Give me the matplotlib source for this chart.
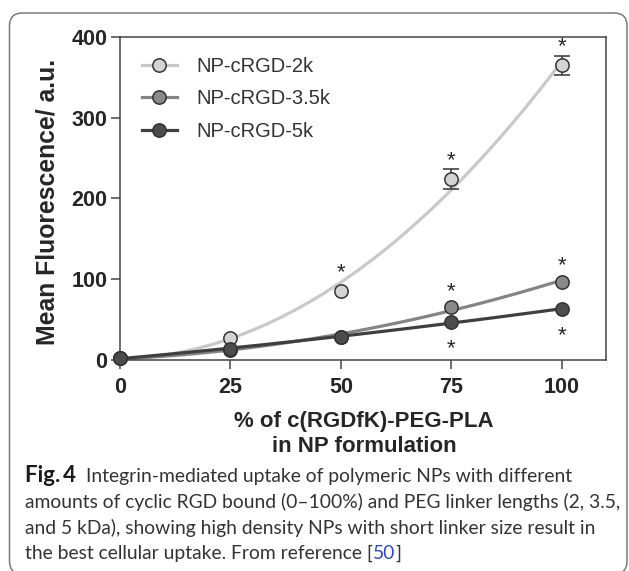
import numpy as np
import matplotlib
matplotlib.use("Agg")
import matplotlib.pyplot as plt
from matplotlib.patches import FancyBboxPatch
from matplotlib.transforms import IdentityTransform
from matplotlib.lines import Line2D

# ---------------- data ----------------
x_pct = [0, 25, 50, 75, 100]
series_names = ["NP-cRGD-2k", "NP-cRGD-3.5k", "NP-cRGD-5k"]
y_2k = [3, 27, 86, 224, 365]
y_35k = [2, 12, 29, 66, 97]
y_5k = [2, 14, 29, 47, 63]
err_2k = [0, 0, 0, 12, 12]
err_35k = [0, 0, 0, 0, 0]
err_5k = [0, 0, 0, 0, 0]
# significance stars: x positions per series, placed above (+1) or below (-1)
sig_2k = [50, 75, 100]
sig_35k = [75, 100]
sig_5k = [75, 100]
sig_side = [1, 1, -1]
x_ticks = [0, 25, 50, 75, 100]
y_ticks = [0, 100, 200, 300, 400]
x_label = "% of c(RGDfK)-PEG-PLA\nin NP formulation"
y_label = "Mean Fluorescence/ a.u."
caption_lines = [
    "Integrin-mediated uptake of polymeric NPs with different",
    "amounts of cyclic RGD bound (0\u2013100%) and PEG linker lengths (2, 3.5,",
    "and 5 kDa), showing high density NPs with short linker size result in",
    "the best cellular uptake. From reference [",
]

# ---------------- style ----------------
W, H = 629, 571
SANS = ["Liberation Sans", "DejaVu Sans"]
line_colors = ["#c9c9c9", "#858585", "#3f3f3f"]
face_colors = ["#d4d4d4", "#8a8a8a", "#4c4c4c"]
edge_color = "#333333"
text_color = "#262626"
MS = 9.6

plt.rcParams["font.family"] = SANS

fig = plt.figure(figsize=(W / 100, H / 100), dpi=100)
fig.patch.set_facecolor("white")

# outer rounded frame
frame = FancyBboxPatch((9.5, H - 574), 627 - 9.5, 574 - 13,
                       boxstyle="round,pad=0,rounding_size=13",
                       transform=IdentityTransform(), fill=False,
                       edgecolor="#7a7a7a", linewidth=1.1)
fig.add_artist(frame)

ax_l, ax_r, ax_t, ax_b = 120, 606, 37, 360
ax = fig.add_axes([ax_l / W, 1 - ax_b / H, (ax_r - ax_l) / W, (ax_b - ax_t) / H])
ax.set_xlim(0, 110)
ax.set_ylim(0, 400)

for s in ax.spines.values():
    s.set_color("#444444")
    s.set_linewidth(1.1)

ax.set_xticks(x_ticks)
ax.set_yticks(y_ticks)
ax.tick_params(axis="both", direction="out", length=6.5, width=1.1, color="#444444",
               labelsize=15.5, labelcolor=text_color)
ax.tick_params(axis="x", pad=6.0)
ax.tick_params(axis="y", pad=2.6)
for lab in ax.get_xticklabels() + ax.get_yticklabels():
    lab.set_fontweight("bold")

ys = [y_2k, y_35k, y_5k]
errs = [err_2k, err_35k, err_5k]
sigs = [sig_2k, sig_35k, sig_5k]
xfine = np.linspace(0, 100, 200)

# fitted trend lines
for i in range(3):
    coef = np.polyfit(x_pct, ys[i], 2)
    ax.plot(xfine, np.polyval(coef, xfine), color=line_colors[i], lw=2.3,
            zorder=2 + i * 0.1, solid_capstyle="butt", clip_on=False)

# markers with error bars
for i in range(3):
    e = np.array(errs[i], dtype=float)
    ax.errorbar(x_pct, ys[i], yerr=np.where(e > 0, e, np.nan), fmt="none",
                ecolor=edge_color, elinewidth=1.1, capsize=5.5, capthick=1.1,
                zorder=4 + i * 0.1, clip_on=False)
    ax.plot(x_pct, ys[i], ls="none", marker="o", ms=MS, mfc=face_colors[i],
            mec=edge_color, mew=1.1, zorder=5 + i * 0.1, clip_on=False)

# significance stars
star_offsets = {1: 10, -1: -32}   # baseline offset in pixels relative to point
for i in range(3):
    for xv in sigs[i]:
        idx = x_pct.index(xv)
        yv = ys[i][idx]
        off = star_offsets[sig_side[i]]
        if sig_side[i] > 0 and errs[i][idx] > 0:
            off += 3
        if i == 0 and errs[i][idx] == 0:
            off += 2
        ax.annotate("*", xy=(xv, yv), xytext=(0, off), textcoords="offset pixels",
                    ha="center", va="baseline", fontsize=16, color=text_color,
                    zorder=6)

# legend
handles = [Line2D([], [], color=line_colors[i], lw=2.3, marker="o", ms=MS,
                  mfc=face_colors[i], mec=edge_color, mew=1.1) for i in range(3)]
leg = ax.legend(handles, series_names, loc="upper left",
                bbox_to_anchor=((142 - ax_l) / (ax_r - ax_l), (ax_b - 57) / (ax_b - ax_t)),
                frameon=False, fontsize=14.5, handlelength=1.72, handletextpad=1.0,
                labelspacing=0.66, borderpad=0, borderaxespad=0)
for t in leg.get_texts():
    t.set_color("#333333")

# axis labels
fig.text(48 / W, 1 - 202 / H, y_label, rotation=90, ha="center", va="center",
         fontsize=17.8, fontweight="bold", color=text_color)
xl = x_label.split("\n")
fig.text(364 / W, 1 - 422 / H, xl[0], ha="center", va="center",
         fontsize=16, fontweight="bold", color=text_color)
fig.text(364 / W, 1 - 446 / H, xl[1], ha="center", va="center",
         fontsize=16, fontweight="bold", color=text_color)

# caption
CAP_FAM = ["Lato", "DejaVu Sans"]
renderer = fig.canvas.get_renderer()
probe = fig.text(0, 0, caption_lines[1], fontsize=13, family=CAP_FAM, fontweight="normal")
wpx = probe.get_window_extent(renderer).width
probe.remove()
cap_fs = 13 * 593 / wpx

probe = fig.text(0, 0, "Fig.\u20094", fontsize=13, family=CAP_FAM, fontweight="bold")
wfig = probe.get_window_extent(renderer).width
probe.remove()
fig_fs = 13 * 51 / wfig

cap_x = 25
baselines = [482, 508, 534, 559]
tf = fig.text(cap_x / W, 1 - baselines[0] / H, "Fig.\u20094", fontsize=fig_fs,
              family=CAP_FAM, fontweight="bold", color="#1a1a1a", va="baseline")
xf = tf.get_window_extent(renderer).x1
fig.text((xf + 10) / W, 1 - baselines[0] / H, caption_lines[0], fontsize=cap_fs,
         family=CAP_FAM, fontweight="normal", color="#333333", va="baseline")
for k in (1, 2):
    fig.text(cap_x / W, 1 - baselines[k] / H, caption_lines[k], fontsize=cap_fs,
             family=CAP_FAM, fontweight="normal", color="#333333", va="baseline")
t4 = fig.text(cap_x / W, 1 - baselines[3] / H, caption_lines[3], fontsize=cap_fs,
              family=CAP_FAM, fontweight="normal", color="#333333", va="baseline")
x4 = t4.get_window_extent(renderer).x1
t5 = fig.text(x4 / W, 1 - baselines[3] / H, "50", fontsize=cap_fs, family=CAP_FAM,
              fontweight="normal", color="#2f45d6", va="baseline")
x5 = t5.get_window_extent(renderer).x1
fig.text(x5 / W, 1 - baselines[3] / H, "]", fontsize=cap_fs, family=CAP_FAM,
         fontweight="normal", color="#333333", va="baseline")

fig.savefig("out.png", dpi=100, facecolor="white")
